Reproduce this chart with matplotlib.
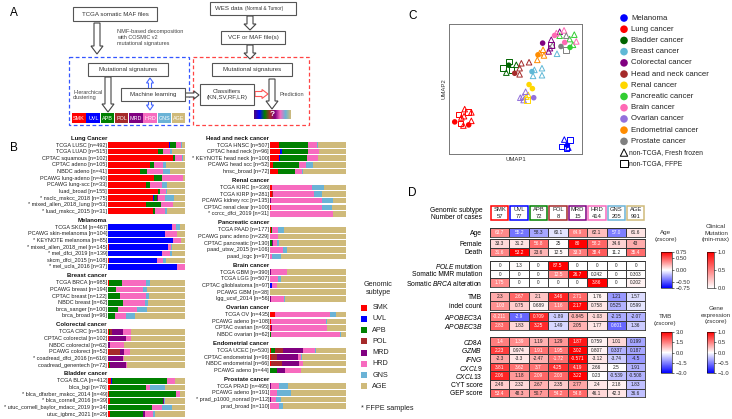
#!/usr/bin/env python3
import numpy as np
import matplotlib
matplotlib.use("Agg")
import matplotlib.pyplot as plt
import matplotlib.transforms as mtransforms
from matplotlib.cm import ScalarMappable
from matplotlib.colors import LinearSegmentedColormap, Normalize
from matplotlib.patches import FancyArrow, Rectangle

plt.rcParams["font.family"] = ["Liberation Sans", "DejaVu Sans"]
plt.rcParams["mathtext.fontset"] = "custom"
plt.rcParams["mathtext.rm"] = "Liberation Sans"
plt.rcParams["mathtext.it"] = "Liberation Sans:italic"
plt.rcParams["mathtext.bf"] = "Liberation Sans:bold"

# ---------------------------------------------------------------- data
subtypes = ["SMK", "UVL", "APB", "POL", "MRD", "HRD", "GNS", "AGE"]
subtype_colors = ["#ff0000", "#0000ff", "#008000", "#a52a2a",
                  "#800080", "#f76bbf", "#6bb3d6", "#cfba7a"]

# panel B: signature mix per cohort (SMK, UVL, APB, POL, MRD, HRD, GNS, AGE)
lung_cohorts = ["TCGA LUSC [n=492]", "TCGA LUAD [n=515]", "CPTAC squamous [n=102]",
                "CPTAC adeno [n=105]", "NBDC adeno [n=41]", "PCAWG lung-adeno [n=40]",
                "PCAWG lung-scc [n=33]", "luad_broad [n=155]", "* nsclc_mskcc_2018 [n=75]",
                "* mixed_allen_2018_lung [n=53]", "* luad_mskcc_2015 [n=31]"]
lung_mix = [[.79, .01, .08, 0, 0, .065, .02, .035],
            [.65, 0, .06, 0, 0, .10, .02, .17],
            [.84, 0, .03, 0, 0, .09, .02, .02],
            [.54, 0, .06, 0, 0, .11, .045, .245],
            [.41, 0, .10, 0, 0, .20, .10, .19],
            [.60, 0, .10, 0, 0, .27, .01, .02],
            [.49, 0, .06, 0, 0, .15, .06, .24],
            [.65, 0, .02, 0, .01, .07, .02, .23],
            [.59, .01, .035, 0, .02, .09, .11, .145],
            [.49, 0, .20, 0, 0, .15, 0, .16],
            [.58, 0, .035, 0, 0, .12, .03, .235]]

mel_cohorts = ["TCGA SKCM [n=467]", "PCAWG skin-melanoma [n=104]", "* KEYNOTE melanoma [n=85]",
               "* mixed_allen_2018_mel [n=145]", "* mel_dfci_2019 [n=139]",
               "skcm_dfci_2015 [n=108]", "* mel_ucla_2016 [n=37]"]
mel_mix = [[.005, .83, 0, 0, 0, .05, .05, .065],
           [0, .74, 0, 0, 0, .15, 0, .11],
           [0, .845, 0, 0, 0, .105, 0, .05],
           [.01, .775, 0, 0, 0, .03, .013, .172],
           [0, .70, 0, 0, 0, .10, .035, .165],
           [.01, .62, 0, 0, 0, .08, .045, .245],
           [0, .89, 0, 0, 0, .11, 0, 0]]

breast_cohorts = ["TCGA BRCA [n=985]", "PCAWG breast [n=194]", "CPTAC breast [n=122]",
                  "NBDC breast [n=62]", "brca_sanger [n=100]", "brca_broad [n=96]"]
breast_mix = [[.01, 0, .175, 0, 0, .31, .05, .455],
              [0, 0, .10, 0, 0, .35, .05, .50],
              [0, 0, .15, 0, 0, .34, .045, .465],
              [0, 0, .19, 0, 0, .295, .03, .485],
              [0, 0, .13, 0, 0, .25, .125, .495],
              [0, 0, .09, 0, 0, .14, .115, .655]]

crc_cohorts = ["TCGA CRC [n=533]", "CPTAC colorectal [n=102]", "NBDC colorectal [n=62]",
               "PCAWG colorect [n=52]", "* coadread_dfci_2016 [n=616]",
               "coadread_genentech [n=72]"]
crc_mix = [[.01, 0, .02, .02, .14, .11, 0, .70],
           [.01, 0, 0, 0, .23, .065, 0, .695],
           [0, 0, 0, 0, .025, .185, 0, .79],
           [.01, 0, 0, .145, .05, .08, 0, .715],
           [0, 0, 0, 0, .20, .01, 0, .79],
           [.01, 0, .01, .01, .21, .01, 0, .75]]

bladder_cohorts = ["TCGA BLCA [n=412]", "blca_bgi [n=76]", "* blca_dfarber_mskcc_2014 [n=49]",
                   "* blca_cornell_2016 [n=39]", "* utuc_cornell_baylor_mdacc_2019 [n=34]",
                   "utuc_igbmc_2021 [n=29]"]
bladder_mix = [[.04, .01, .72, 0, 0, .10, .005, .125],
               [.03, 0, .46, 0, 0, .055, .19, .265],
               [.01, 0, .87, 0, 0, .055, 0, .065],
               [.03, 0, .69, 0, .01, 0, .01, .26],
               [0, 0, .565, 0, 0, .13, .13, .175],
               [.03, 0, .42, 0, .035, .10, .02, .395]]

hn_cohorts = ["TCGA HNSC [n=507]", "CPTAC head neck [n=96]", "* KEYNOTE head neck [n=100]",
              "PCAWG head scc [n=52]", "hnsc_broad [n=72]"]
hn_mix = [[.12, 0, .375, 0, 0, .12, .01, .375],
          [.13, .03, .335, 0, 0, .155, 0, .35],
          [.12, .01, .36, 0, 0, .135, 0, .375],
          [.045, 0, .33, 0, 0, .10, .09, .435],
          [.10, 0, .23, 0, 0, .09, .01, .57]]

renal_cohorts = ["TCGA KIRC [n=336]", "TCGA KIRP [n=281]", "PCAWG kidney rcc [n=135]",
                 "CPTAC renal clear [n=100]", "* ccrcc_dfci_2019 [n=31]"]
renal_mix = [[.02, 0, 0, .01, 0, .52, .16, .29],
             [.03, 0, 0, .01, 0, .54, .11, .31],
             [0, 0, 0, 0, .01, .68, .14, .17],
             [.01, 0, 0, 0, 0, .67, .13, .19],
             [0, 0, 0, 0, 0, .83, 0, .17]]

panc_cohorts = ["TCGA PAAD [n=177]", "PCAWG panc adeno [n=229]", "CPTAC pancreatic [n=130]",
                "paad_utsw_2015 [n=106]", "paad_icgc [n=97]"]
panc_mix = [[.01, 0, .02, 0, 0, .07, .08, .82],
            [0, 0, 0, 0, 0, .10, 0, .90],
            [0, 0, .02, 0, .02, .05, .03, .88],
            [0, 0, 0, 0, 0, .175, .045, .78],
            [0, 0, 0, 0, 0, .02, .12, .86]]

brain_cohorts = ["TCGA GBM [n=390]", "TCGA LGG [n=507]", "CPTAC glioblastoma [n=97]",
                 "PCAWG GBM [n=38]", "lgg_ucsf_2014 [n=56]"]
brain_mix = [[0, 0, 0, 0, .01, .21, 0, .78],
             [0, 0, 0, 0, 0, .10, .05, .85],
             [0, .02, 0, 0, 0, .07, 0, .91],
             [0, 0, 0, 0, 0, 0, 0, 1.0],
             [0, 0, 0, 0, .01, .18, .01, .80]]

ov_cohorts = ["TCGA OV [n=435]", "PCAWG adeno [n=108]", "CPTAC ovarian [n=93]",
              "NBDC ovarian [n=62]"]
ov_mix = [[.06, 0, .01, 0, 0, .72, .075, .135],
          [.01, 0, 0, 0, 0, .73, .005, .255],
          [.01, 0, 0, 0, .01, .73, 0, .25],
          [0, 0, .01, 0, 0, .91, .01, .07]]

endo_cohorts = ["TCGA UCEC [n=530]", "CPTAC endometrial [n=96]", "NBDC endometrial [n=66]",
                "PCAWG adeno [n=44]"]
endo_mix = [[.01, 0, .06, .10, .26, .16, .01, .40],
            [.01, 0, 0, .08, .28, .04, .01, .58],
            [.01, 0, 0, .145, .23, .045, 0, .57],
            [0, 0, .09, 0, .11, .21, 0, .59]]

prad_cohorts = ["TCGA PRAD [n=495]", "PCAWG adeno [n=191]", "* prad_p1000_nonrad [n=112]",
                "prad_broad [n=110]"]
prad_mix = [[0, 0, 0, 0, .01, .11, .12, .76],
            [0, 0, 0, 0, 0, .09, .19, .72],
            [0, 0, 0, 0, .01, .07, .06, .86],
            [0, 0, 0, 0, 0, .12, .055, .825]]

# panel C: UMAP embedding
cancer_types = ["Melanoma", "Lung cancer", "Bladder cancer", "Breast cancer",
                "Colorectal cancer", "Head and neck cancer", "Renal cancer",
                "Pancreatic cancer", "Brain cancer", "Ovarian cancer",
                "Endometrial cancer", "Prostate cancer"]
cancer_colors = ["#0000ff", "#ff0000", "#006400", "#5fb8d6", "#800080", "#a52a2a",
                 "#ffd700", "#32cd32", "#ff69b4", "#9370db", "#ff8c00", "#808080"]
umap_tcga_x = [.890, .043, .148, .449, .624, .704, .494, .602, .627, .910, .794, .870, .637, .669, .842]
umap_tcga_y = [.067, .247, .224, .683, .634, .853, .621, .534, .503, .820, .912, .858, .433, .763, .827]
umap_tcga_type = [0, 1, 1, 2, 3, 4, 5, 6, 6, 7, 8, 8, 9, 10, 11]
umap_fresh_x = [.867, .897, .118, .168, .168, .093, .113, .108, .431, .506, .642, .699, .699,
                .632, .812, .769, .759, .749, .832, .531, .544, .602, .531, .596, .581, .942,
                .907, .932, .832, .865, .957, .807, .576, .556, .536, .561, .707, .714, .664,
                .682, .882, .777]
umap_fresh_y = [.111, .049, .345, .320, .255, .281, .291, .219, .626, .686, .647, .660, .606,
                .601, .771, .879, .814, .789, .941, .660, .698, .706, .613, .454, .441, .918,
                .884, .840, .910, .951, .866, .930, .479, .441, .433, .415, .802, .758, .724,
                .776, .910, .835]
umap_fresh_type = [0, 0, 1, 1, 1, 1, 1, 1, 2, 2, 3, 3, 3, 3, 3, 4, 4, 4, 4, 5, 5, 5, 5, 6, 6,
                   7, 7, 7, 7, 8, 8, 8, 9, 9, 9, 9, 10, 10, 10, 10, 11, 11]
umap_ffpe_x = [.847, .910, .882, .073, .143, .085, .451, .406, .469, .769, .586, .880]
umap_ffpe_y = [.059, .106, .046, .304, .322, .235, .711, .662, .647, .838, .415, .799]
umap_ffpe_type = [0, 0, 0, 1, 1, 1, 2, 2, 2, 4, 6, 11]

# panel D: per-subtype summary
subtype_n = [57, 77, 72, 8, 15, 414, 205, 991]
age = [63.7, 55.2, 58.3, 60.1, 64.9, 62.1, 57.0, 61.6]
age_z = [.34, -.41, -.26, -.08, .38, .19, -.38, .08]
female = [33.3, 31.2, 56.8, 25, 80, 58.2, 34.6, 43]
death = [31.6, 53.2, 23.6, 12.5, 33.3, 38.4, 11.2, 35.4]
pole = [0, 1.3, 0, 87.5, 0, 0, 0, 0]
mmr = [0, 0, 0, 12.5, 26.7, 0.242, 0, 0.303]
brca = [1.75, 0, 0, 0, 0, 3.86, 0, 0.202]
tmb = [2.3, 2.67, 2.1, 3.46, 2.71, 1.76, 1.21, 1.57]
indel = [1.03, 0.75, 0.689, 1.16, 2.17, 0.758, 0.525, 0.599]
apobec3a = [-0.211, -2.9, 0.709, -1.89, -0.845, -1.03, -2.15, -2.07]
apobec3b = [2.83, 1.83, 3.25, 1.49, 2.05, 1.77, 0.601, 1.36]
tmb_z = [1.0, 1.8, 0.7, 2.6, 1.8, 0.15, -1.2, -0.4]
indel_z = [1.3, 0.6, 0.15, 1.5, 2.9, 0.3, -0.9, -0.3]
apobec3a_z = [1.5, -1.8, 2.5, -0.6, 0.9, 0.45, -1.0, -0.9]
apobec3b_z = [1.8, 0.45, 2.5, -0.45, 0.9, 0.3, -1.8, -0.6]
cd8a = [1.4, 1.39, 1.19, 1.29, 1.87, 0.759, 1.01, 0.199]
gzmb = [2.23, 0.974, 1.91, 1.95, 3.02, 0.807, 0.337, 0.187]
ifng = [-2.3, -3.3, -2.47, -1.72, -0.571, -3.12, -3.74, -4.5]
cxcl9 = [3.81, 3.62, 3.7, 4.25, 4.19, 2.66, 2.5, 1.91]
cxcl13 = [2.06, 1.18, 2.09, 2.03, 3.22, 0.23, -0.539, -0.508]
cyt = [2.48, 2.32, 2.67, 2.35, 2.77, 2.4, 2.18, 1.83]
gep = [53.4, 48.3, 50.7, 54.2, 54.8, 46.1, 42.3, 36.6]
cd8a_z = [.5, .45, .3, .4, .9, .05, .15, -.35]
gzmb_z = [.75, .1, .55, .55, 1.0, .05, -.3, -.35]
ifng_z = [.35, .1, .3, .55, 1.0, .1, -.2, -.4]
cxcl9_z = [.75, .55, .55, .8, .85, .05, 0, -.3]
cxcl13_z = [.85, .4, .6, .6, 1.0, 0, -.25, -.3]
cyt_z = [.2, .15, .3, .2, .35, .1, .05, -.25]
gep_z = [.6, .35, .4, .55, .6, .15, .1, -.25]

# ---------------------------------------------------------------- layout
W, H = 732, 419
fig = plt.figure(figsize=(W / 100, H / 100), dpi=100)


def box(x, y, w, h):
    """pixel rectangle (top-left origin) -> figure fraction rect"""
    return [x / W, 1 - (y + h) / H, w / W, h / H]


def ftext(x, y, s, **kw):
    fig.text(x / W, 1 - y / H, s, **kw)


for lab, (lx, ly) in zip("ABCD", [(10, 13), (10, 148), (408, 16), (408, 193)]):
    ftext(lx, ly, lab, fontsize=8.5, ha="left", va="center")

# ---------------------------------------------------------------- panel A
axA = fig.add_axes(box(0, 0, 370, 127))
axA.set_xlim(0, 370)
axA.set_ylim(127, 0)
axA.axis("off")
EDGE = "#555555"


def flow_box(x, y, w, h, text, fs=4.4):
    axA.add_patch(Rectangle((x, y), w, h, fc="white", ec=EDGE, lw=0.8, zorder=3))
    axA.text(x + w / 2, y + h / 2, text, ha="center", va="center", fontsize=fs,
             color="#333333", zorder=4, linespacing=1.15)


def hollow_arrow(x, y, dx, dy, width=6, head=12, hl=8, ec="#444444"):
    axA.add_patch(FancyArrow(x, y, dx, dy, width=width, head_width=head, head_length=hl,
                             length_includes_head=True, fc="white", ec=ec, lw=0.8, zorder=2))


axA.add_patch(Rectangle((69, 57), 120, 68, fill=False, ec="#3355ff", ls=(0, (3, 2)), lw=0.9))
axA.add_patch(Rectangle((193, 57), 116, 68, fill=False, ec="#ff4444", ls=(0, (3, 2)), lw=0.9))

flow_box(73, 7, 84, 14, "TCGA somatic MAF files")
hollow_arrow(97, 23, 0, 31)
axA.text(117, 29, "NMF-based decomposition\nwith COSMIC v2\nmutational signatures",
         fontsize=4.0, color="#444444", va="top", ha="left", linespacing=1.2)
flow_box(88, 63, 80, 13, "Mutational signatures")
hollow_arrow(108, 77, 0, 35)
axA.text(73, 95, "Hierarchical\nclustering", fontsize=4.0, color="#444444",
         va="center", ha="left", linespacing=1.2)
hollow_arrow(150, 94, 0, -16, width=3, head=7, hl=5, ec="#4466ff")
hollow_arrow(150, 94, 0, 16, width=3, head=7, hl=5, ec="#4466ff")
flow_box(121, 88, 64, 13, "Machine learning")
hollow_arrow(185, 95, 14, 0, width=4, head=8, hl=5)

seg = 114 / len(subtypes)
for i, (name, col) in enumerate(zip(subtypes, subtype_colors)):
    axA.add_patch(Rectangle((72 + i * seg, 113), seg - 0.6, 10, fc=col, ec="none"))
    axA.text(72 + i * seg + seg / 2, 118, name, color="white", fontsize=3.9,
             ha="center", va="center")

axA.add_patch(Rectangle((210, 2), 86, 13, fc="white", ec=EDGE, lw=0.8, zorder=3))
axA.text(215, 8.5, "WES data", fontsize=4.4, color="#333333", va="center", zorder=4)
axA.text(245, 8.8, "(Normal & Tumor)", fontsize=3.4, color="#333333", va="center", zorder=4)
hollow_arrow(250, 16, 0, 14, head=12, hl=6)
flow_box(221, 31, 64, 13, "VCF or MAF file(s)")
hollow_arrow(250, 45, 0, 14, head=12, hl=6)
flow_box(212, 63, 80, 13, "Mutational signatures")
flow_box(200, 84, 54, 21, "Classifiers\n(KN,SV,RF,LR)")
hollow_arrow(255, 94, 13, 0, width=5, head=9, hl=6, ec="#ff5555")
hollow_arrow(272, 79, 0, 30)
axA.text(280, 95, "Prediction", fontsize=4.0, color="#444444", va="center")
grad = LinearSegmentedColormap.from_list(
    "grad", ["#4b0a7a", "#0000ff", "#008000", "#a52a2a", "#800080",
             "#f76bbf", "#6bb3d6", "#cfba7a"])
axA.imshow(np.linspace(0, 1, 100)[None, :], cmap=grad, aspect="auto",
           extent=(254, 291, 119, 110), zorder=3)
axA.text(272.5, 114.5, "?", color="white", fontsize=6, fontweight="bold",
         ha="center", va="center", zorder=4)
axA.set_xlim(0, 370)
axA.set_ylim(127, 0)

# ---------------------------------------------------------------- panel B
GROUP_GAP = 2.4


def stack_column(ax, groups):
    tr = mtransforms.blended_transform_factory(ax.transAxes, ax.transData)
    y = 0.0
    for gi, (title, cohorts, mix) in enumerate(groups):
        if gi > 0:
            y += GROUP_GAP
        ys = y + np.arange(len(cohorts))
        ax.text(-0.012, ys[0] - 1.05, title, transform=tr, ha="right", va="center",
                fontsize=4.3, fontweight="bold", color="#111111")
        mix = np.asarray(mix, dtype=float)
        mix = mix / mix.sum(axis=1, keepdims=True)
        left = np.zeros(len(cohorts))
        for k, col in enumerate(subtype_colors):
            ax.barh(ys, mix[:, k], left=left, height=0.84, color=col, lw=0)
            left += mix[:, k]
        for yy, lab in zip(ys, cohorts):
            ax.text(-0.012, yy, lab, transform=tr, ha="right", va="center",
                    fontsize=4.0, color="#222222")
        y = ys[-1]
    ax.set_xlim(0, 1)
    ax.set_ylim(41.1, -1.6)
    ax.axis("off")


axBL = fig.add_axes(box(108, 134.4, 77, 283))
stack_column(axBL, [("Lung Cancer", lung_cohorts, lung_mix),
                    ("Melanoma", mel_cohorts, mel_mix),
                    ("Breast cancer", breast_cohorts, breast_mix),
                    ("Colorectal cancer", crc_cohorts, crc_mix),
                    ("Bladder cancer", bladder_cohorts, bladder_mix)])
axBR = fig.add_axes(box(270, 134.4, 76, 283))
stack_column(axBR, [("Head and neck cancer", hn_cohorts, hn_mix),
                    ("Renal cancer", renal_cohorts, renal_mix),
                    ("Pancreatic cancer", panc_cohorts, panc_mix),
                    ("Brain cancer", brain_cohorts, brain_mix),
                    ("Ovarian cancer", ov_cohorts, ov_mix),
                    ("Endometrial cancer", endo_cohorts, endo_mix),
                    ("Prostate cancer", prad_cohorts, prad_mix)])

# genomic subtype legend
ftext(378, 288, "Genomic\nsubtype", fontsize=5.2, ha="center", va="center",
      color="#222222", linespacing=1.2)
axLg = fig.add_axes(box(358, 302, 40, 90))
axLg.scatter(np.full(len(subtypes), 0.15), np.arange(len(subtypes)), marker="s", s=20,
             c=subtype_colors, lw=0)
for i, name in enumerate(subtypes):
    axLg.text(0.36, i, name, fontsize=5.2, va="center", ha="left", color="#222222")
axLg.set_xlim(0, 1)
axLg.set_ylim(len(subtypes) - 0.5, -0.5)
axLg.axis("off")
ftext(361, 408, "* FFPE samples", fontsize=5.2, ha="left", va="center", color="#222222")

# ---------------------------------------------------------------- panel C
axC = fig.add_axes(box(449, 24, 133, 130))
for xs, ys, ts, mk, filled in [(umap_fresh_x, umap_fresh_y, umap_fresh_type, "^", False),
                               (umap_ffpe_x, umap_ffpe_y, umap_ffpe_type, "s", False),
                               (umap_tcga_x, umap_tcga_y, umap_tcga_type, "o", True)]:
    cols = [cancer_colors[t] for t in ts]
    if filled:
        axC.scatter(xs, ys, s=16, c=cols, marker=mk, lw=0, zorder=3)
    else:
        axC.scatter(xs, ys, s=16, facecolors="none", edgecolors=cols, marker=mk,
                    lw=0.7, zorder=2)
axC.set_xlim(0, 1)
axC.set_ylim(0, 1)
axC.set_xticks([])
axC.set_yticks([])
for sp in axC.spines.values():
    sp.set_linewidth(0.7)
    sp.set_color("#777777")
axC.set_xlabel("UMAP1", fontsize=4.3, labelpad=2, color="#333333")
axC.set_ylabel("UMAP2", fontsize=4.3, labelpad=2, color="#333333")

axCl = fig.add_axes(box(618, 12.4, 112, 157))
n_leg = len(cancer_types) + 2
axCl.scatter(np.full(len(cancer_types), 6), np.arange(len(cancer_types)), s=30,
             c=cancer_colors, lw=0)
for i, name in enumerate(cancer_types):
    axCl.text(13, i, name, fontsize=5.6, va="center", ha="left", color="#222222")
axCl.scatter([6], [len(cancer_types)], s=28, marker="^", facecolors="none",
             edgecolors="black", lw=0.7)
axCl.scatter([6], [len(cancer_types) + 1], s=28, marker="s", facecolors="none",
             edgecolors="black", lw=0.7)
axCl.text(11, len(cancer_types), "non-TCGA, Fresh frozen", fontsize=4.9, va="center",
          color="#222222")
axCl.text(11, len(cancer_types) + 1, "non-TCGA, FFPE", fontsize=4.9, va="center",
          color="#222222")
axCl.set_xlim(0, 112)
axCl.set_ylim(n_leg - 0.5, -0.5)
axCl.axis("off")

# ---------------------------------------------------------------- panel D
CELL_X, CELL_W = 490, 155.4
ROW_H = 8.6
LABEL_FS = 4.9
CELL_FS = 3.4
bwr = plt.get_cmap("bwr")
white_red = LinearSegmentedColormap.from_list("wr", ["#ffffff", "#ff0000"])

axH = fig.add_axes(box(CELL_X, 205, CELL_W, 16))
for i, (name, col, n) in enumerate(zip(subtypes, subtype_colors, subtype_n)):
    axH.add_patch(Rectangle((i + 0.05, 0.06), 0.9, 0.88, fill=False, ec=col, lw=1.1))
    axH.text(i + 0.5, 0.3, name, ha="center", va="center", fontsize=4.2, color="#222222")
    axH.text(i + 0.5, 0.72, str(n), ha="center", va="center", fontsize=4.2, color="#222222")
axH.set_xlim(0, 8)
axH.set_ylim(1, 0)
axH.set_xticks([])
axH.set_yticks([0.3, 0.72])
axH.set_yticklabels(["Genomic subtype", "Number of cases"], fontsize=LABEL_FS)
axH.tick_params(length=0, pad=5.5)
for sp in axH.spines.values():
    sp.set_visible(False)


def heat_block(top, rows, shades, labels, cmap, vmin, vmax, fmt="{:g}"):
    n = len(rows)
    ax = fig.add_axes(box(CELL_X, top, CELL_W, ROW_H * n))
    shade = np.asarray(shades, dtype=float)
    ax.pcolormesh(shade, cmap=cmap, vmin=vmin, vmax=vmax, edgecolors="#3a3a3a",
                  linewidth=0.5)
    ax.set_xlim(0, 8)
    ax.set_ylim(n, 0)
    for r, row in enumerate(rows):
        for c, v in enumerate(row):
            s = (shade[r, c] - vmin) / (vmax - vmin) * 2 - 1
            if vmin == 0:
                s = shade[r, c] / vmax
            color = "white" if abs(s) > 0.42 else "#222222"
            ax.text(c + 0.5, r + 0.52, fmt.format(v), ha="center", va="center",
                    fontsize=CELL_FS, color=color)
    ax.set_xticks([])
    ax.set_yticks(np.arange(n) + 0.5)
    ax.set_yticklabels(labels, fontsize=LABEL_FS)
    ax.tick_params(length=0, pad=5.5)
    for sp in ax.spines.values():
        sp.set_linewidth(0.6)
        sp.set_color("#333333")
    return ax


def minmax(row):
    row = np.asarray(row, dtype=float)
    return (row - row.min()) / (row.max() - row.min())


heat_block(228, [age], [age_z], ["Age"], bwr, -0.75, 0.75, fmt="{:.1f}")
heat_block(239, [female, death], [minmax(female), minmax(death)],
           ["Female", "Death"], white_red, 0, 1)
heat_block(261, [pole, mmr, brca], [minmax(pole), minmax(mmr), minmax(brca)],
           [r"$\it{POLE}$ mutation", "Somatic MMR mutation",
            r"Somatic $\it{BRCA}$ alteration"], white_red, 0, 1)
heat_block(292.5, [tmb, indel], [tmb_z, indel_z], ["TMB", "indel count"], bwr, -3, 3)
heat_block(312.5, [apobec3a, apobec3b], [apobec3a_z, apobec3b_z],
           [r"$\it{APOBEC3A}$", r"$\it{APOBEC3B}$"], bwr, -3, 3)
heat_block(337, [cd8a, gzmb, ifng, cxcl9, cxcl13, cyt, gep],
           [cd8a_z, gzmb_z, ifng_z, cxcl9_z, cxcl13_z, cyt_z, gep_z],
           [r"$\it{CD8A}$", r"$\it{GZMB}$", r"$\it{IFNG}$", r"$\it{CXCL9}$",
            r"$\it{CXCL13}$", "CYT score", "GEP score"], bwr, -1, 1)


def colorbar(x, y, w, h, cmap, vmin, vmax, ticks, labels):
    cax = fig.add_axes(box(x, y, w, h))
    cb = fig.colorbar(ScalarMappable(Normalize(vmin, vmax), cmap), cax=cax, ticks=ticks)
    cb.ax.set_yticklabels(labels, fontsize=4.2, color="#333333")
    cb.ax.tick_params(length=1.5, width=0.4, pad=1)
    cb.outline.set_linewidth(0.4)


MINUS = "\u2212"
ftext(666, 236, "Age\n(zscore)", fontsize=4.5, ha="center", va="center",
      color="#333333", linespacing=1.3)
colorbar(661, 252, 11, 36, bwr, -0.75, 0.75, [0.75, 0.5, 0, -0.5, -0.75],
         ["0.75", "0.50", "0.00", MINUS + "0.50", MINUS + "0.75"])
ftext(716, 233, "Clinical\nMutation\n(min-max)", fontsize=4.5, ha="center",
      va="center", color="#333333", linespacing=1.3)
colorbar(707, 252, 7, 36, white_red, 0, 1, [1.0, 0.5, 0.0], ["1.0", "0.5", "0.0"])
ftext(665, 320, "TMB\n(zscore)", fontsize=4.5, ha="center", va="center",
      color="#333333", linespacing=1.3)
colorbar(661, 332, 11, 41, bwr, -3, 3, [3, 1.5, 0, -1.5, -3],
         ["3.0", "1.5", "0.0", MINUS + "1.5", MINUS + "3.0"])
ftext(716, 315, "Gene\nexpression\n(zscore)", fontsize=4.5, ha="center", va="center",
      color="#333333", linespacing=1.3)
colorbar(707, 332, 7, 41, bwr, -1, 1, [1, 0.5, 0, -0.5, -1],
         ["1.0", "0.5", "0.0", MINUS + "0.5", MINUS + "1.0"])

fig.savefig("out.png", dpi=100)
